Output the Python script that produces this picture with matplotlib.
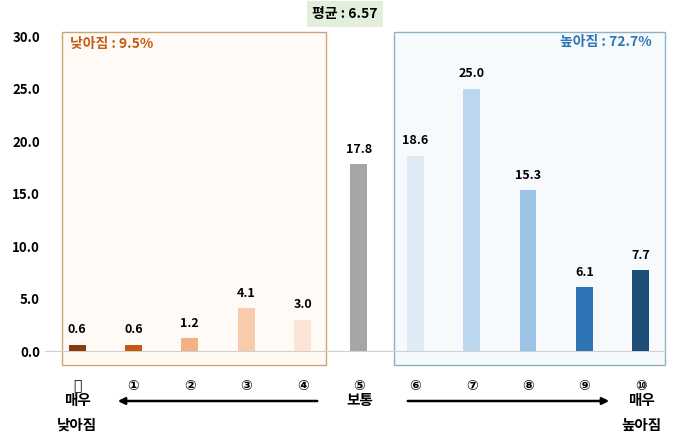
import matplotlib.pyplot as plt
from matplotlib.patches import Rectangle, FancyArrowPatch

plt.rcParams["font.family"] = ["Noto Sans CJK JP", "Noto Sans CJK KR", "DejaVu Sans"]

# Chart data
scale_labels = ["⓪", "①", "②", "③", "④", "⑤", "⑥", "⑦", "⑧", "⑨", "⑩"]
values = [0.6, 0.6, 1.2, 4.1, 3.0, 17.8, 18.6, 25.0, 15.3, 6.1, 7.7]
bar_colors = ["#843c0c", "#c55a11", "#f4b183", "#f8cbad", "#fbe5d6", "#a6a6a6",
              "#deebf7", "#bdd7ee", "#9dc3e6", "#2e75b6", "#1f4e79"]
mean_text = "평균 : 6.57"
low_text = "낮아짐 : 9.5%"
high_text = "높아짐 : 72.7%"

W, H = 680, 444
fig = plt.figure(figsize=(6.8, 4.44), dpi=100)

def fx(px): return px / W
def fy(py): return 1 - py / H

# Background boxes (figure coordinates), kept behind the axes
fig.patches.append(Rectangle((fx(62), fy(365)), fx(326) - fx(62), fy(32) - fy(365),
                             transform=fig.transFigure, facecolor="#fffaf6",
                             edgecolor="#c8a870", lw=1, zorder=-5))
fig.patches.append(Rectangle((fx(394), fy(365)), fx(665) - fx(394), fy(32) - fy(365),
                             transform=fig.transFigure, facecolor="#f6fafd",
                             edgecolor="#8fb2c2", lw=1, zorder=-5))

ax = fig.add_axes([fx(45), fy(351), fx(665) - fx(45), fy(36) - fy(351)])
ax.set_zorder(2)
ax.patch.set_alpha(0)
x = list(range(len(values)))
ax.bar(x, values, width=0.3, color=bar_colors, zorder=3)
for xi, v in zip(x, values):
    ax.text(xi, v + 0.8, f"{v:.1f}", ha="center", va="bottom",
            fontsize=9, fontweight="bold")

ax.set_xlim(-0.57, 10.43)
ax.set_ylim(0, 30)
ax.set_yticks([0, 5, 10, 15, 20, 25, 30])
ax.set_yticklabels([f"{t:.1f}" for t in [0, 5, 10, 15, 20, 25, 30]],
                   fontsize=9.5, fontweight="bold")
ax.set_xticks(x)
ax.set_xticklabels(scale_labels, fontsize=10, fontweight="bold",
                   fontfamily="DejaVu Sans")
ax.tick_params(axis="x", length=0, pad=20)
ax.tick_params(axis="y", length=0)
for s in ["top", "right", "left"]:
    ax.spines[s].set_visible(False)
ax.spines["bottom"].set_color("#d0d0d0")

# Box labels and mean
fig.text(fx(70), fy(44), low_text, color="#c55a11", fontsize=10,
         fontweight="bold", va="center")
fig.text(fx(652), fy(42), high_text, color="#2e75b6", fontsize=10,
         fontweight="bold", va="center", ha="right")
fig.text(fx(345), fy(14), mean_text, fontsize=10, fontweight="bold",
         va="center", ha="center",
         bbox=dict(facecolor="#e2efda", edgecolor="none", pad=4))

# Bottom annotations
for px, py, s in [(77, 400, "매우"), (77, 425, "낮아짐"), (360, 400, "보통"),
                  (641, 400, "매우"), (641, 425, "높아짐")]:
    fig.text(fx(px), fy(py), s, fontsize=10.5, fontweight="bold",
             ha="center", va="center")
fig.patches.append(FancyArrowPatch(
    (fx(320), fy(401)), (fx(115), fy(401)), transform=fig.transFigure,
    arrowstyle="-|>", mutation_scale=10, lw=1.8, color="black"))
fig.patches.append(FancyArrowPatch(
    (fx(405), fy(401)), (fx(612), fy(401)), transform=fig.transFigure,
    arrowstyle="-|>", mutation_scale=10, lw=1.8, color="black"))

fig.savefig("out.png", dpi=100)
